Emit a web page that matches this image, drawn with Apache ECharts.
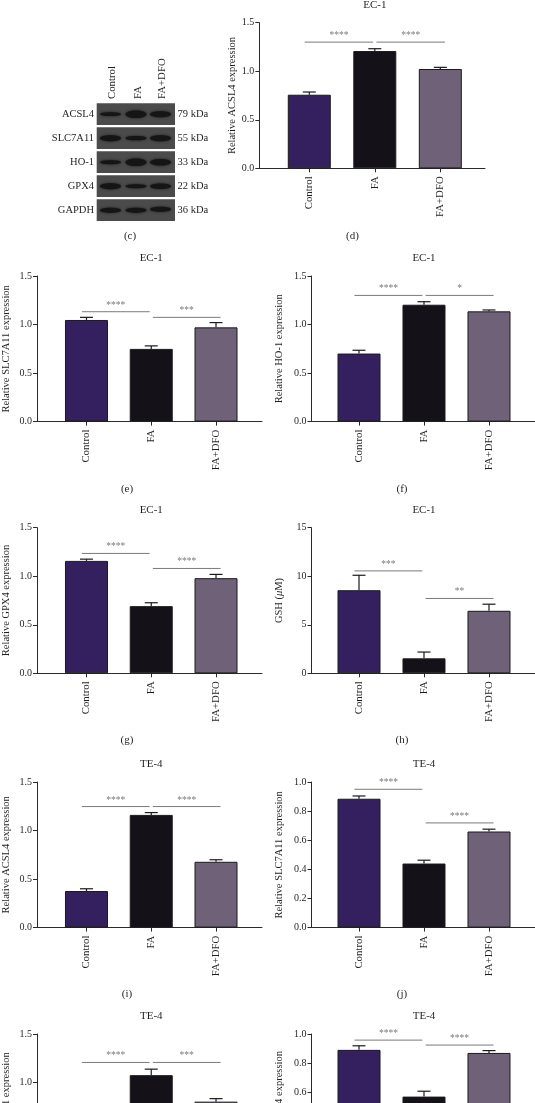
<!DOCTYPE html>
<html><head><meta charset="utf-8">
<script src="https://cdn.jsdelivr.net/npm/echarts@6/dist/echarts.min.js"></script>
<style>html,body{margin:0;padding:0;background:#fff;overflow:hidden}#c{width:535px;height:1200px}</style>
</head><body><div id="c"></div>
<script>
// ---------- DATA ----------
const categories = ['Control', 'FA', 'FA+DFO'];

// (d) EC-1 ACSL4
const ec1Acsl4Mean = [0.758, 1.208, 1.023];
const ec1Acsl4Sem  = [0.028, 0.024, 0.017];
const ec1Acsl4Sig  = [[0, 1, 1.30, '****'], [1, 2, 1.30, '****']];
// (e) EC-1 SLC7A11
const ec1SlcMean = [1.047, 0.749, 0.971];
const ec1SlcSem  = [0.027, 0.031, 0.049];
const ec1SlcSig  = [[0, 1, 1.132, '****'], [1, 2, 1.074, '***']];
// (f) EC-1 HO-1
const ec1HoMean = [0.701, 1.204, 1.136];
const ec1HoSem  = [0.034, 0.031, 0.014];
const ec1HoSig  = [[0, 1, 1.30, '****'], [1, 2, 1.30, '*']];
// (g) EC-1 GPX4
const ec1GpxMean = [1.158, 0.692, 0.980];
const ec1GpxSem  = [0.018, 0.035, 0.039];
const ec1GpxSig  = [[0, 1, 1.235, '****'], [1, 2, 1.080, '****']];
// (h) EC-1 GSH (uM)
const ec1GshMean = [8.56, 1.54, 6.44];
const ec1GshSem  = [1.54, 0.65, 0.68];
const ec1GshSig  = [[0, 1, 10.55, '***'], [1, 2, 7.71, '**']];
// (i) TE-4 ACSL4
const te4Acsl4Mean = [0.377, 1.161, 0.678];
const te4Acsl4Sem  = [0.023, 0.024, 0.021];
const te4Acsl4Sig  = [[0, 1, 1.247, '****'], [1, 2, 1.247, '****']];
// (j) TE-4 SLC7A11
const te4SlcMean = [0.885, 0.440, 0.660];
const te4SlcSem  = [0.019, 0.023, 0.016];
const te4SlcSig  = [[0, 1, 0.950, '****'], [1, 2, 0.719, '****']];
// (k) TE-4 HO-1 (Control bar lies below the visible area)
const te4HoMean = [0.50, 1.076, 0.803];
const te4HoSem  = [0.04, 0.062, 0.031];
const te4HoSig  = [[0, 1, 1.207, '****'], [1, 2, 1.207, '***']];
// (l) TE-4 GPX4
const te4GpxMean = [0.891, 0.570, 0.870];
const te4GpxSem  = [0.028, 0.037, 0.016];
const te4GpxSig  = [[0, 1, 0.958, '****'], [1, 2, 0.924, '****']];

// (c) western blot
const blotProteins = ['ACSL4', 'SLC7A11', 'HO-1', 'GPX4', 'GAPDH'];
const blotKda = ['79 kDa', '55 kDa', '33 kDa', '22 kDa', '36 kDa'];
const blotBand = [
  [0.30, 1.00, 0.70],
  [0.70, 0.40, 0.70],
  [0.35, 1.00, 0.80],
  [0.70, 0.35, 0.60],
  [0.55, 0.55, 0.55]
];

// ---------- STYLE / LAYOUT ----------
const FONT = "'Liberation Serif','Times New Roman',serif";
const TXT = '#231f20';
const AX = '#2a2a2a';
const barColors = ['#35205f', '#141218', '#6e6178'];
const SIGC = '#7a7a7a';
const H = 145.6;
const colL = {left:37, right:262, xMin:-0.764, xMax:2.710, gap:25};
const colR = {left:311.5, right:535, xMin:-0.731, xMax:2.708, gap:27};
const rowTop = [276, 527.7, 782, 1034];

const panels = [
  {t:'EC-1', n:'Relative ACSL4 expression', yMax:1.5, step:0.5, dec:1, m:ec1Acsl4Mean, s:ec1Acsl4Sem, g:ec1Acsl4Sig,
   L:{left:259.3, right:485, top:22.7, xMin:-0.763, xMax:2.682, gap:22}, lab:['(d)', 352.5, 236]},
  {t:'EC-1', n:'Relative SLC7A11 expression', yMax:1.5, step:0.5, dec:1, m:ec1SlcMean, s:ec1SlcSem, g:ec1SlcSig,
   L:Object.assign({top:rowTop[0]}, colL), lab:['(e)', 127, 489]},
  {t:'EC-1', n:'Relative HO-1 expression', yMax:1.5, step:0.5, dec:1, m:ec1HoMean, s:ec1HoSem, g:ec1HoSig,
   L:Object.assign({top:rowTop[0]}, colR), lab:['(f)', 402, 489]},
  {t:'EC-1', n:'Relative GPX4 expression', yMax:1.5, step:0.5, dec:1, m:ec1GpxMean, s:ec1GpxSem, g:ec1GpxSig,
   L:Object.assign({top:rowTop[1]}, colL), lab:['(g)', 127, 740]},
  {t:'EC-1', n:'GSH ({it|μ}M)', yMax:15, step:5, dec:0, m:ec1GshMean, s:ec1GshSem, g:ec1GshSig,
   L:Object.assign({top:rowTop[1]}, colR), lab:['(h)', 402, 740]},
  {t:'TE-4', n:'Relative ACSL4 expression', yMax:1.5, step:0.5, dec:1, m:te4Acsl4Mean, s:te4Acsl4Sem, g:te4Acsl4Sig,
   L:Object.assign({top:rowTop[2]}, colL), lab:['(i)', 127, 994]},
  {t:'TE-4', n:'Relative SLC7A11 expression', yMax:1.0, step:0.2, dec:1, m:te4SlcMean, s:te4SlcSem, g:te4SlcSig,
   L:Object.assign({top:rowTop[2]}, colR), lab:['(j)', 402, 994]},
  {t:'TE-4', n:'Relative HO-1 expression', yMax:1.5, step:0.5, dec:1, m:te4HoMean, s:te4HoSem, g:te4HoSig,
   L:Object.assign({top:rowTop[3]}, colL), lab:null},
  {t:'TE-4', n:'Relative GPX4 expression', yMax:1.0, step:0.2, dec:1, m:te4GpxMean, s:te4GpxSem, g:te4GpxSig,
   L:Object.assign({top:rowTop[3]}, colR), lab:null}
];

const grid = [], xAxis = [], yAxis = [], series = [], graphic = [];

function txt(x, y, text, opts) {
  return {type:'text', x, y, silent:true, style:Object.assign({
    text, fill:TXT, fontFamily:FONT, fontSize:10.5, align:'center', verticalAlign:'middle'}, opts || {})};
}

panels.forEach((p, i) => {
  const L = p.L;
  const W = L.right - L.left;
  grid.push({left:L.left, top:L.top, width:W, height:H, containLabel:false, outerBoundsMode:'none'});
  xAxis.push({
    type:'value', gridIndex:i, min:L.xMin, max:L.xMax,
    axisLine:{show:true, onZero:false, lineStyle:{color:AX, width:1}},
    splitLine:{show:false},
    axisTick:{show:true, customValues:[0, 1, 2], length:4, lineStyle:{color:AX, width:1}},
    axisLabel:{show:true, customValues:[0, 1, 2], rotate:90, margin:8,
      formatter:v => categories[Math.round(v)], fontFamily:FONT, fontSize:10.8, color:TXT}
  });
  yAxis.push({
    type:'value', gridIndex:i, min:0, max:p.yMax, interval:p.step,
    axisLine:{show:true, onZero:false, lineStyle:{color:AX, width:1}},
    splitLine:{show:false},
    axisTick:{show:true, length:4, lineStyle:{color:AX, width:1}},
    axisLabel:{margin:5, formatter:v => v.toFixed(p.dec), fontFamily:FONT, fontSize:10, color:TXT},
    name:p.n, nameLocation:'middle', nameRotate:90, nameGap:L.gap,
    nameTextStyle:{fontFamily:FONT, fontSize:10.5, color:TXT,
      rich:{it:{fontStyle:'italic', fontFamily:FONT, fontSize:10.5, color:TXT}}}
  });
  series.push({
    type:'bar', xAxisIndex:i, yAxisIndex:i, barWidth:43, silent:true, z:2,
    itemStyle:{borderColor:'#1a1a1a', borderWidth:1},
    data:p.m.map((v, k) => ({value:[k, v], itemStyle:{color:barColors[k]}}))
  });
  series.push({
    type:'custom', xAxisIndex:i, yAxisIndex:i, silent:true, z:3,
    data:p.m.map((v, k) => [k, v, v + p.s[k]]),
    renderItem:(params, api) => {
      const x = api.value(0);
      const a = api.coord([x, api.value(1)]);
      const b = api.coord([x, api.value(2)]);
      const hw = 6.5;
      return {type:'group', children:[
        {type:'line', shape:{x1:a[0], y1:a[1], x2:b[0], y2:b[1]}, style:{stroke:'#1a1a1a', lineWidth:1.2}},
        {type:'line', shape:{x1:b[0]-hw, y1:b[1], x2:b[0]+hw, y2:b[1]}, style:{stroke:'#1a1a1a', lineWidth:1.2}}
      ]};
    }
  });
  series.push({
    type:'custom', xAxisIndex:i, yAxisIndex:i, silent:true, z:3,
    data:p.g.map(s => [s[0], s[2], s[1]]),
    renderItem:(params, api) => {
      const s = p.g[params.dataIndex];
      const x1 = s[0] === 1 ? s[0] + 0.025 : s[0] - 0.07;
      const x2 = s[1] === 1 ? s[1] - 0.025 : s[1] + 0.07;
      const a = api.coord([x1, s[2]]);
      const b = api.coord([x2, s[2]]);
      return {type:'group', children:[
        {type:'line', shape:{x1:a[0], y1:a[1], x2:b[0], y2:b[1]}, style:{stroke:SIGC, lineWidth:1}},
        {type:'text', x:(a[0] + b[0]) / 2, y:a[1] - 6.5, style:{text:s[3], fill:SIGC, fontFamily:FONT,
          fontSize:9.5, align:'center', verticalAlign:'middle'}}
      ]};
    }
  });
  const fx = L.left + (1 - L.xMin) / (L.xMax - L.xMin) * W;
  graphic.push(txt(fx, L.top - 17.5, p.t, {fontSize:11}));
  if (p.lab) graphic.push(txt(p.lab[1], p.lab[2], p.lab[0], {fontSize:11}));
});

// ---------- western blot (c) ----------
const bx = 96.7, bw = 78.3, by = 103.3, rowPitch = 24, rowH = 21.8;
const laneX = [110.5, 136, 160.5];
blotProteins.forEach((name, r) => {
  const y0 = by + r * rowPitch;
  graphic.push({type:'rect', silent:true, shape:{x:bx, y:y0, width:bw, height:rowH},
    style:{fill:'#4b4b4b'}});
  blotBand[r].forEach((v, l) => {
    graphic.push({type:'ellipse', silent:true,
      shape:{cx:laneX[l], cy:y0 + rowH / 2 + (r === 4 && l === 2 ? -1 : 0), rx:10.5, ry:1.0 + 2.8 * v},
      style:{fill:'#151515', shadowBlur:2.5, shadowColor:'rgba(15,15,15,0.9)'}});
  });
  graphic.push(txt(94, y0 + rowH / 2, name, {align:'right'}));
  graphic.push(txt(177.5, y0 + rowH / 2, blotKda[r], {align:'left'}));
});
categories.forEach((c, l) => {
  graphic.push({type:'text', silent:true, x:laneX[l] + 2, y:99, rotation:Math.PI / 2,
    style:{text:c, fill:TXT, fontFamily:FONT, fontSize:10.8, align:'left', verticalAlign:'middle'}});
});
graphic.push(txt(130, 236.5, '(c)', {fontSize:11}));

const chart = echarts.init(document.getElementById('c'), null, {renderer:'canvas'});
chart.setOption({
  animation:false,
  backgroundColor:'#ffffff',
  grid, xAxis, yAxis, series, graphic
});
</script>
</body></html>
